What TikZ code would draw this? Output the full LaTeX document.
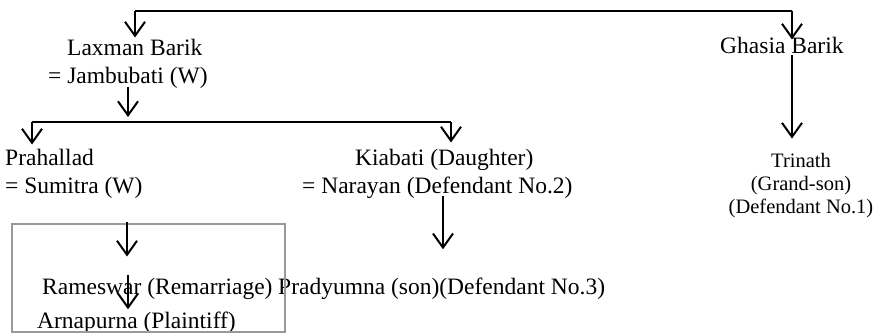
\documentclass[tikz,border=0pt]{standalone}
\usepackage{fontspec}
\setmainfont{Liberation Serif}
\usetikzlibrary{arrows.meta}
\begin{document}
\begin{tikzpicture}[x=1pt,y=-1pt,
  lbl/.style={font=\fontsize{23.5}{27}\selectfont, inner sep=0pt, anchor=base west},
  lblsmall/.style={font=\fontsize{20.5}{23}\selectfont, inner sep=0pt, anchor=base},
  link/.style={line width=2pt},
  arr/.style={line width=2pt, -{Straight Barb[length=14pt,width=20pt,line width=2pt]}},
  frame/.style={draw=gray!80, line width=1.2pt}]
\useasboundingbox (0,0) rectangle (886,333);

% family members
\node[lbl] (lax1) at (67,55) {Laxman Barik};
\node[lbl] (lax2) at (48,83) {= Jambubati (W)};
\node[lbl] (gha) at (720,53) {Ghasia Barik};
\node[lbl] (pra1) at (5,165) {Prahallad};
\node[lbl] (pra2) at (5,193) {= Sumitra (W)};
\node[lbl] (kia1) at (355,165) {Kiabati (Daughter)};
\node[lbl] (kia2) at (302,193) {= Narayan (Defendant No.2)};
\node[lblsmall] (tri1) at (801,167) {Trinath};
\node[lblsmall] (tri2) at (801,190) {(Grand-son)};
\node[lblsmall] (tri3) at (801,213) {(Defendant No.1)};
\node[lbl] (ram) at (42,294) {Rameswar (Remarriage)};
\node[lbl] (arn) at (37,328) {Arnapurna (Plaintiff)};
\node[lbl] (pdy) at (278,294) {Pradyumna (son)(Defendant No.3)};

% frame round the plaintiff's line
\draw[frame] (12,224) rectangle (285,332);

% junction points
\coordinate (tl) at (135,11);
\coordinate (tr) at (792,11);
\coordinate (bl) at (32,122);
\coordinate (br) at (451,122);
\coordinate (jm) at (128,87);
\coordinate (nr) at (443,196);
\coordinate (rtop) at (127,222);
\coordinate (rbot) at (128,275);
\coordinate (gb) at (792,55);

% top generation
\draw[link] (tl) -- (tr);
\draw[arr] (tl) -- ([yshift=1pt]tl |- lax1.north);
\draw[arr] (tr) -- ([yshift=-3pt]tr |- gha.north);

% children of Laxman Barik
\draw[arr] (jm) -- ([yshift=5pt]jm |- bl);
\draw[link] (bl) -- (br);
\draw[arr] (bl) -- ([yshift=4pt]bl |- pra1.north);
\draw[arr] (br) -- ([yshift=6pt]br |- kia1.north);

% Ghasia Barik to Trinath
\draw[arr] (gb) -- ([yshift=14pt]gb |- tri1.north);

% Narayan to Pradyumna
\draw[arr] (nr) -- ([yshift=28pt]nr |- pdy.north);

% Prahallad's line
\draw[arr] (rtop) -- ([yshift=21pt]rtop |- ram.north);
\draw[arr] (rbot) -- ([yshift=2pt]rbot |- arn.north);
\end{tikzpicture}
\end{document}
